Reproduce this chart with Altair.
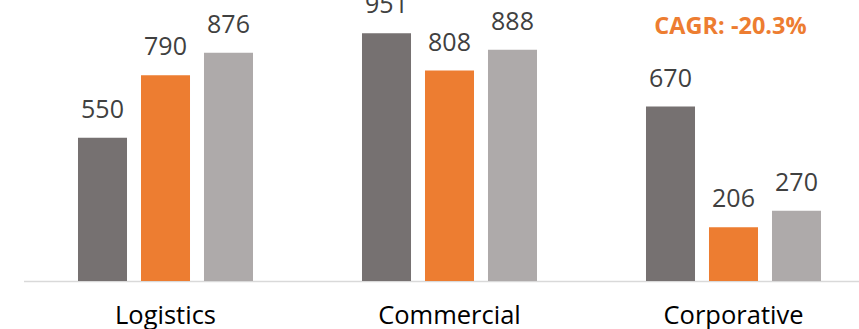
import altair as alt
import pandas as pd

categories = ["Logistics", "Commercial", "Corporative"]
series = ["A", "B", "C"]
values_a = [550, 951, 670]
values_b = [790, 808, 206]
values_c = [876, 888, 270]
colors = ["#767171", "#ED7D31", "#AEAAAA"]
annotation_text = "CAGR: -20.3%"
annotation_category = "Corporative"
annotation_value = 950

rows = []
for i, cat in enumerate(categories):
    for s, vals in zip(series, [values_a, values_b, values_c]):
        rows.append({"category": cat, "series": s, "value": vals[i]})
df = pd.DataFrame(rows)
ann = pd.DataFrame([{"category": annotation_category, "value": annotation_value, "text": annotation_text}])

FONT = "Open Sans"

xscale = alt.Scale(domain=categories, range=[23.5, 875.5], paddingInner=0, paddingOuter=0)
yscale = alt.Scale(domain=[0, 1079], nice=False, zero=True)
xoff = alt.XOffset("series:N", scale=alt.Scale(domain=series, paddingInner=0.222, paddingOuter=0.865))

x = alt.X("category:N", scale=xscale, sort=categories,
          axis=alt.Axis(title=None, ticks=False, domainColor="#D9D9D9", domainWidth=1.5,
                        labelFont=FONT, labelFontSize=25.5, labelColor="#000000",
                        labelPadding=22, labelAngle=0, grid=False))
y = alt.Y("value:Q", scale=yscale, axis=None)

bars = alt.Chart(df).mark_bar().encode(
    x=x, xOffset=xoff, y=y,
    color=alt.Color("series:N", scale=alt.Scale(domain=series, range=colors), legend=None),
)

labels = alt.Chart(df).mark_text(font=FONT, fontSize=25, color="#404040", baseline="alphabetic", dy=-20).encode(
    x=x, xOffset=xoff, y=y, text=alt.Text("value:Q"),
)

annot = alt.Chart(ann).mark_text(font=FONT, fontSize=23.5, fontWeight="bold", color="#ED7D31",
                                 baseline="alphabetic", dx=-3).encode(
    x=x,
    y=y,
    text="text:N",
)

chart = alt.layer(bars, labels, annot).properties(
    width=859, height=281,
    background="white",
    autosize=alt.AutoSizeParams(type="none"),
    padding={"left": 0, "right": 0, "top": 0, "bottom": 48},
).configure_view(stroke=None)

chart.save("out.html", embed_options={"renderer": "svg", "actions": False})
